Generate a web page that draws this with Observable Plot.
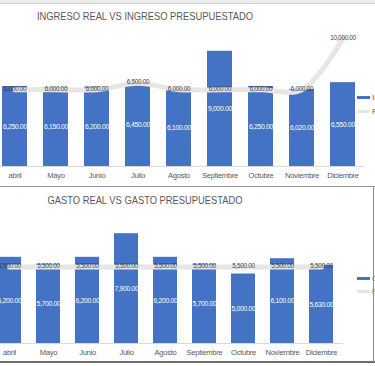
<!DOCTYPE html>
<html><head><meta charset="utf-8">
<script src="https://cdn.jsdelivr.net/npm/d3@7"></script>
<script src="https://cdn.jsdelivr.net/npm/@observablehq/plot@0.6"></script>
<style>
body{margin:0;background:#fff;overflow:hidden}
#wrap{position:relative;width:375px;height:366px;overflow:hidden;font-family:"Liberation Sans",Arial,sans-serif;background:#fff}
.panel{position:absolute;left:0;width:375px}
.panel svg{display:block;overflow:visible}
.panel svg text{letter-spacing:-0.3px}
.title{position:absolute;left:0;width:290px;text-align:center;color:#595959;font-size:11px;white-space:nowrap;transform:scaleX(0.85);transform-origin:145px 0}
.leg{position:absolute;left:357px;font-size:8px;color:#595959;white-space:nowrap}
.leg i{display:inline-block;width:13px;height:3px;vertical-align:middle;margin-right:2px}
.topbar{position:absolute;left:0;top:0;width:375px;height:3px;background:#ececec;border-bottom:1px solid #cfcfcf}
.sep{position:absolute;left:0;top:186px;width:375px;height:1px;background:#9a9a9a}
.bot{position:absolute;left:0;top:361px;width:375px;height:2px;background:#6e6e6e}
.rgt{position:absolute;left:373px;top:186px;width:1px;height:176px;background:#8c8c8c}
</style></head><body><div id="wrap">
<div class="topbar"></div>
<div class="panel" id="p1" style="top:0"></div>
<div class="panel" id="p2" style="top:185px"></div>
<div class="title" style="top:10px">INGRESO REAL VS INGRESO PRESUPUESTADO</div>
<div class="title" style="top:194px">GASTO REAL VS GASTO PRESUPUESTADO</div>
<div class="leg" style="top:93px"><i style="background:#4472C4"></i>Ingreso Real</div>
<div class="leg" style="top:107px"><i style="background:#e6e6e6"></i>Presupuesto</div>
<div class="leg" style="top:274px"><i style="background:#4472C4"></i>Gasto Real</div>
<div class="leg" style="top:287px"><i style="background:#e6e6e6"></i>Presupuesto</div>
<div class="sep"></div><div class="bot"></div><div class="rgt"></div>
</div>
<script>
const months = ["abril","Mayo","Junio","Julio","Agosto","Septiembre","Octubre","Noviembre","Diciembre"];
const ingresoReal = [6250,6150,6200,6450,6100,9000,6250,6020,6550];
const ingresoPresupuesto = [6000,6000,6000,6500,6000,6000,6000,6000,10000];
const gastoReal = [6200,5700,6200,7900,6200,5700,5000,6100,5630];
const gastoPresupuesto = [5500,5500,5500,5500,5500,5500,5500,5500,5500];

const fmt = d3.format(",.2f");
const font = '"Liberation Sans",Arial,sans-serif';

function chart(real, pres, o) {
  const data = months.map((m, i) => ({month: m, real: real[i], pres: pres[i]}));
  return Plot.plot({
    width: 375, height: o.height,
    marginLeft: 0, marginRight: o.marginRight, marginTop: 0, marginBottom: o.height - o.y0,
    style: {fontFamily: font, background: "transparent", overflow: "visible"},
    x: {type: "band", domain: months, range: o.range, padding: o.padding, label: null, axis: null},
    y: {domain: [0, 10000], range: [o.y0, o.yTop], axis: null},
    marks: [
      Plot.ruleY([0], {stroke: "#d9d9d9"}),
      Plot.barY(data, {x: "month", y: "real", fill: "#4472C4"}),
      Plot.lineY(data, {x: "month", y: "pres", stroke: "#e6e6e6", strokeWidth: 5, curve: "catmull-rom"}),
      Plot.text(data, {x: "month", y: d => d.real / 2, text: d => fmt(d.real), fill: "white", fontSize: 6.8}),
      Plot.text(data, {x: "month", y: "pres", text: d => fmt(d.pres), fill: "#404040", fontSize: 6.4, dy: -1}),
      Plot.axisX({tickSize: 0, tickPadding: 6, fontSize: 7.6, fill: "#595959", label: null})
    ]
  });
}

document.getElementById("p1").append(chart(ingresoReal, ingresoPresupuesto,
  {height: 184, y0: 166, yTop: 38, range: [-15.8, 372.2], padding: 0.395, marginRight: 11}));
document.getElementById("p2").append(chart(gastoReal, gastoPresupuesto,
  {height: 176, y0: 158, yTop: 19, range: [-18.3, 348.7], padding: 0.386, marginRight: 32}));
</script></body></html>
